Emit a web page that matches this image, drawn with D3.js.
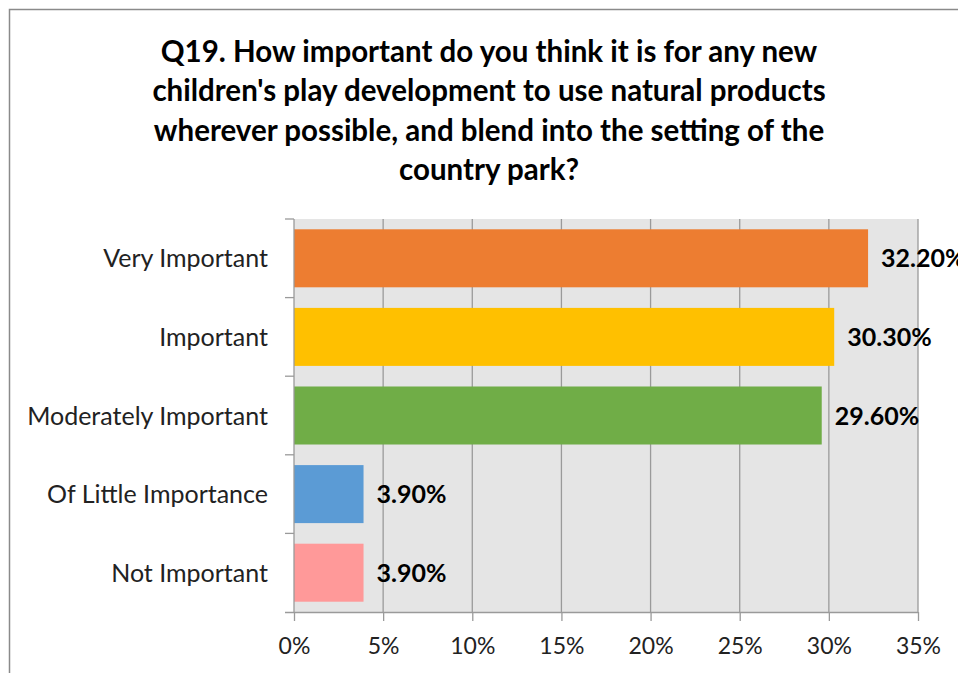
<!DOCTYPE html>
<html>
<head>
<meta charset="utf-8">
<script src="https://cdn.jsdelivr.net/npm/d3@7"></script>
<style>
  body { margin: 0; background: #fff; }
  text { font-family: Lato, "Noto Sans", sans-serif; }
</style>
</head>
<body>
<div id="chart"></div>
<script>
const titleLines = [
  "Q19. How important do you think it is for any new",
  "children's play development to use natural products",
  "wherever possible, and blend into the setting of the",
  "country park?"
];
const categories = ["Very Important", "Important", "Moderately Important", "Of Little Importance", "Not Important"];
const values = [32.2, 30.3, 29.6, 3.9, 3.9];
const colors = ["#ED7D31", "#FFC000", "#70AD47", "#5B9BD5", "#FF9999"];
const xTicks = [0, 5, 10, 15, 20, 25, 30, 35];

const W = 958, H = 673;
const svg = d3.select("#chart").append("svg")
    .attr("width", W)
    .attr("height", H);

// outer chart border (runs off the page on right and bottom)
svg.append("rect")
    .attr("x", 9.5).attr("y", 9.5)
    .attr("width", 1000).attr("height", 700)
    .attr("fill", "none")
    .attr("stroke", "#8a8a8a")
    .attr("stroke-width", 1.5);

// title
svg.append("text")
    .attr("text-anchor", "middle")
    .attr("font-weight", "bold")
    .attr("font-size", 29.5)
    .attr("fill", "#000")
    .selectAll("tspan")
    .data(titleLines)
    .enter()
    .append("tspan")
    .attr("x", 489)
    .attr("y", (d, i) => 62 + i * 39.3)
    .text(d => d);

const pLeft = 294, pRight = 918, pTop = 219, pBottom = 612;

const x = d3.scaleLinear().domain([0, 35]).range([pLeft, pRight]);
const y = d3.scaleBand().domain(categories).range([pTop, pBottom]).paddingInner(0.262).paddingOuter(0.131);

// plot background
svg.append("rect")
    .attr("x", pLeft).attr("y", pTop)
    .attr("width", pRight - pLeft).attr("height", pBottom - pTop)
    .attr("fill", "#e5e5e5");

// vertical gridlines
svg.append("g")
    .selectAll("line")
    .data(xTicks.slice(1))
    .enter()
    .append("line")
    .attr("x1", d => x(d)).attr("x2", d => x(d))
    .attr("y1", pTop).attr("y2", pBottom)
    .attr("stroke", "#9a9a9a")
    .attr("stroke-width", 1.3);

// bars
svg.append("g")
    .selectAll("rect")
    .data(values)
    .enter()
    .append("rect")
    .attr("x", x(0))
    .attr("y", (d, i) => y(categories[i]))
    .attr("width", d => x(d) - x(0))
    .attr("height", y.bandwidth())
    .attr("fill", (d, i) => colors[i]);

// value labels
svg.append("g")
    .selectAll("text")
    .data(values)
    .enter()
    .append("text")
    .attr("x", d => x(d) + 13)
    .attr("y", (d, i) => y(categories[i]) + y.bandwidth() / 2)
    .attr("dy", "0.36em")
    .attr("font-size", 25)
    .attr("font-weight", "bold")
    .attr("fill", "#000")
    .text(d => d.toFixed(2) + "%");

// x axis
const xAxis = svg.append("g")
    .attr("transform", `translate(0,${pBottom})`)
    .call(d3.axisBottom(x).tickValues(xTicks).tickSize(9).tickPadding(17).tickFormat(d => d + "%"));
xAxis.select(".domain").attr("stroke", "#9a9a9a").attr("stroke-width", 1.3).attr("d", `M${pLeft - 9},0.5H${pRight}`);
xAxis.selectAll(".tick line").attr("stroke", "#9a9a9a").attr("stroke-width", 1.3);
xAxis.selectAll(".tick text").attr("font-size", 23).attr("fill", "#222").style("font-family", "Lato, 'Noto Sans', sans-serif");

// y axis: ticks at band boundaries
const yAxis = svg.append("g");
yAxis.append("line")
    .attr("x1", pLeft).attr("x2", pLeft)
    .attr("y1", pTop).attr("y2", pBottom)
    .attr("stroke", "#9a9a9a")
    .attr("stroke-width", 1.3);
const step = y.step();
yAxis.selectAll("line.tick")
    .data(d3.range(categories.length))
    .enter()
    .append("line")
    .attr("class", "tick")
    .attr("x1", pLeft - 9).attr("x2", pLeft)
    .attr("y1", d => pTop + d * step).attr("y2", d => pTop + d * step)
    .attr("stroke", "#9a9a9a")
    .attr("stroke-width", 1.3);
yAxis.selectAll("text")
    .data(categories)
    .enter()
    .append("text")
    .attr("x", 268)
    .attr("y", d => y(d) + y.bandwidth() / 2)
    .attr("dy", "0.36em")
    .attr("text-anchor", "end")
    .attr("font-size", 25)
    .attr("fill", "#222")
    .text(d => d);
</script>
</body>
</html>
